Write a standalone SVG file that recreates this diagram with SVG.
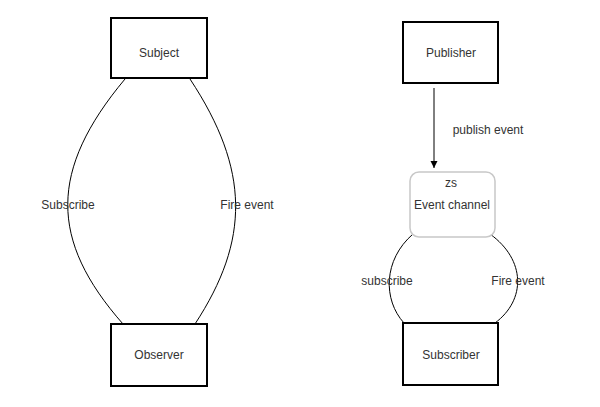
<svg xmlns="http://www.w3.org/2000/svg" width="600" height="407" viewBox="0 0 600 407">
<style>
.box{fill:#fff;stroke:#000;stroke-width:2}
.ch{fill:#fff;stroke:#c8c8c8;stroke-width:1.5}
.edge{fill:none;stroke:#000;stroke-width:1}
text{font-family:"Liberation Sans",Arial,sans-serif;font-size:12px;fill:#333;text-anchor:middle;dominant-baseline:central}
</style>
<defs>
<marker id="arr" markerWidth="8" markerHeight="8" refX="7" refY="4" orient="auto" markerUnits="userSpaceOnUse">
<path d="M0,0.5 L7,4 L0,7.5 Z" fill="#000"/>
</marker>
</defs>
<rect width="600" height="407" fill="#fff"/>
<g id="connectors">
<path class="edge" d="M125,79 C49,170 49,240 123,324"/>
<path class="edge" d="M190,79 C250,170 250,240 195,324"/>
<path class="edge" d="M434,88 L434,168" marker-end="url(#arr)"/>
<path class="edge" d="M413,234 C383,260 383,300 404,323"/>
<path class="edge" d="M490,234 C526,260 526,300 495,323"/>
</g>
<g id="subject"><rect class="box" x="111" y="18" width="96" height="60"/><text x="159" y="53">Subject</text></g>
<g id="observer"><rect class="box" x="111" y="324" width="96" height="62"/><text x="159" y="355">Observer</text></g>
<g id="publisher"><rect class="box" x="403" y="22" width="95" height="61"/><text x="451" y="53">Publisher</text></g>
<g id="channel"><rect class="ch" x="410" y="172" width="85" height="65" rx="9"/><text x="451" y="183" font-size="11">zs</text><text x="452" y="205">Event channel</text></g>
<g id="subscriber"><rect class="box" x="403" y="323" width="95" height="62"/><text x="451" y="355">Subscriber</text></g>
<g id="labels">
<text x="68" y="205">Subscribe</text>
<text x="247" y="205">Fire event</text>
<text x="488" y="130">publish event</text>
<text x="387" y="281">subscribe</text>
<text x="518" y="281">Fire event</text>
</g>
</svg>
